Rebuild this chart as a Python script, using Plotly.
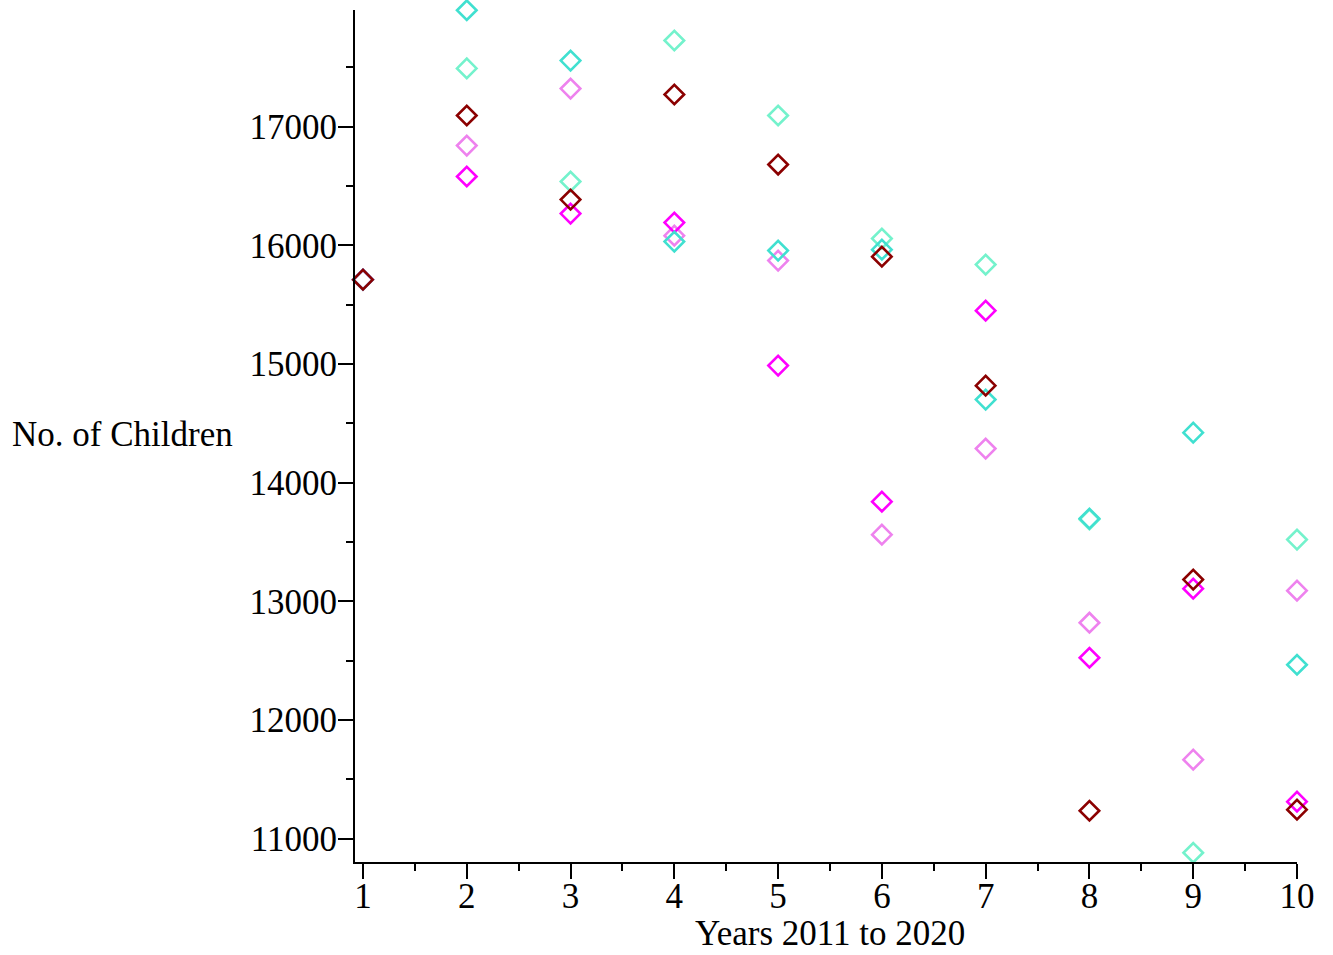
import plotly.graph_objects as go

years = [1, 2, 3, 4, 5, 6, 7, 8, 9, 10]

aquamarine_vals = [15710, 17490, 16537, 17725, 17093, 16056, 15837, 13690, 10882, 13520]
violet_vals     = [15710, 16840, 17320, 16081, 15871, 13562, 14287, 12820, 11666, 13090]
magenta_vals    = [15710, 16579, 16267, 16191, 14986, 13840, 15449, 12525, 13107, 11312]
turquoise_vals  = [15710, 17980, 17556, 16031, 15955, 15963, 14700, 13697, 14421, 12466]
maroon_vals     = [15710, 17093, 16385, 17270, 16680, 15904, 14817, 11236, 13183, 11245]

series = [
    ("Aquamarine", aquamarine_vals, "#74F2CC"),
    ("Violet", violet_vals, "#EE82EE"),
    ("Magenta", magenta_vals, "#FF00FF"),
    ("Turquoise", turquoise_vals, "#40E0D0"),
    ("Maroon", maroon_vals, "#8B0000"),
]

y_ticks = [11000, 12000, 13000, 14000, 15000, 16000, 17000]
x_ticks = years

fig = go.Figure()
for name, vals, col in series:
    fig.add_trace(go.Scatter(
        x=years, y=vals, mode="markers", name=name,
        marker=dict(symbol="diamond-open", size=15, color=col,
                    line=dict(width=2.6, color=col)),
        cliponaxis=False,
    ))

font_family = "Liberation Serif, Times New Roman, serif"
fs = 35

fig.update_layout(
    width=1333, height=955,
    margin=dict(l=355, r=36, t=10, b=93),
    paper_bgcolor="white", plot_bgcolor="white",
    showlegend=False,
    font=dict(family=font_family, size=fs, color="black"),
    xaxis=dict(
        range=[0.923, 10], tickmode="array", tickvals=x_ticks,
        ticktext=[str(v) for v in x_ticks],
        showline=True, linecolor="black", linewidth=2,
        ticks="outside", ticklen=15, tickwidth=2, tickcolor="black",
        ticklabelstandoff=-13,
        showgrid=False, zeroline=False,
        minor=dict(ticks="outside", ticklen=7, tickwidth=2, tickcolor="black",
                   dtick=0.5, tick0=1, showgrid=False),
        tickfont=dict(family=font_family, size=fs, color="black"),
    ),
    yaxis=dict(
        range=[10804, 17982], tickmode="array", tickvals=y_ticks,
        ticktext=[str(v) for v in y_ticks],
        showline=True, linecolor="black", linewidth=2,
        ticks="outside", ticklen=15, tickwidth=2, tickcolor="black",
        ticklabelstandoff=-6,
        showgrid=False, zeroline=False,
        minor=dict(ticks="outside", ticklen=7, tickwidth=2, tickcolor="black",
                   dtick=500, tick0=11000, showgrid=False),
        tickfont=dict(family=font_family, size=fs, color="black"),
    ),
    annotations=[
        dict(text="No. of Children", xref="paper", yref="paper",
             x=-0.2473, y=0.5012, xanchor="center", yanchor="middle",
             showarrow=False, font=dict(family=font_family, size=fs, color="black")),
        dict(text="Years 2011 to 2020", xref="paper", yref="paper",
             x=0.504, y=-0.0845, xanchor="center", yanchor="middle",
             showarrow=False, font=dict(family=font_family, size=fs, color="black")),
    ],
)

fig.write_html("out.html",
               config={"displayModeBar": False},
               post_script="document.body.style.margin='0';document.body.style.overflow='hidden';")
